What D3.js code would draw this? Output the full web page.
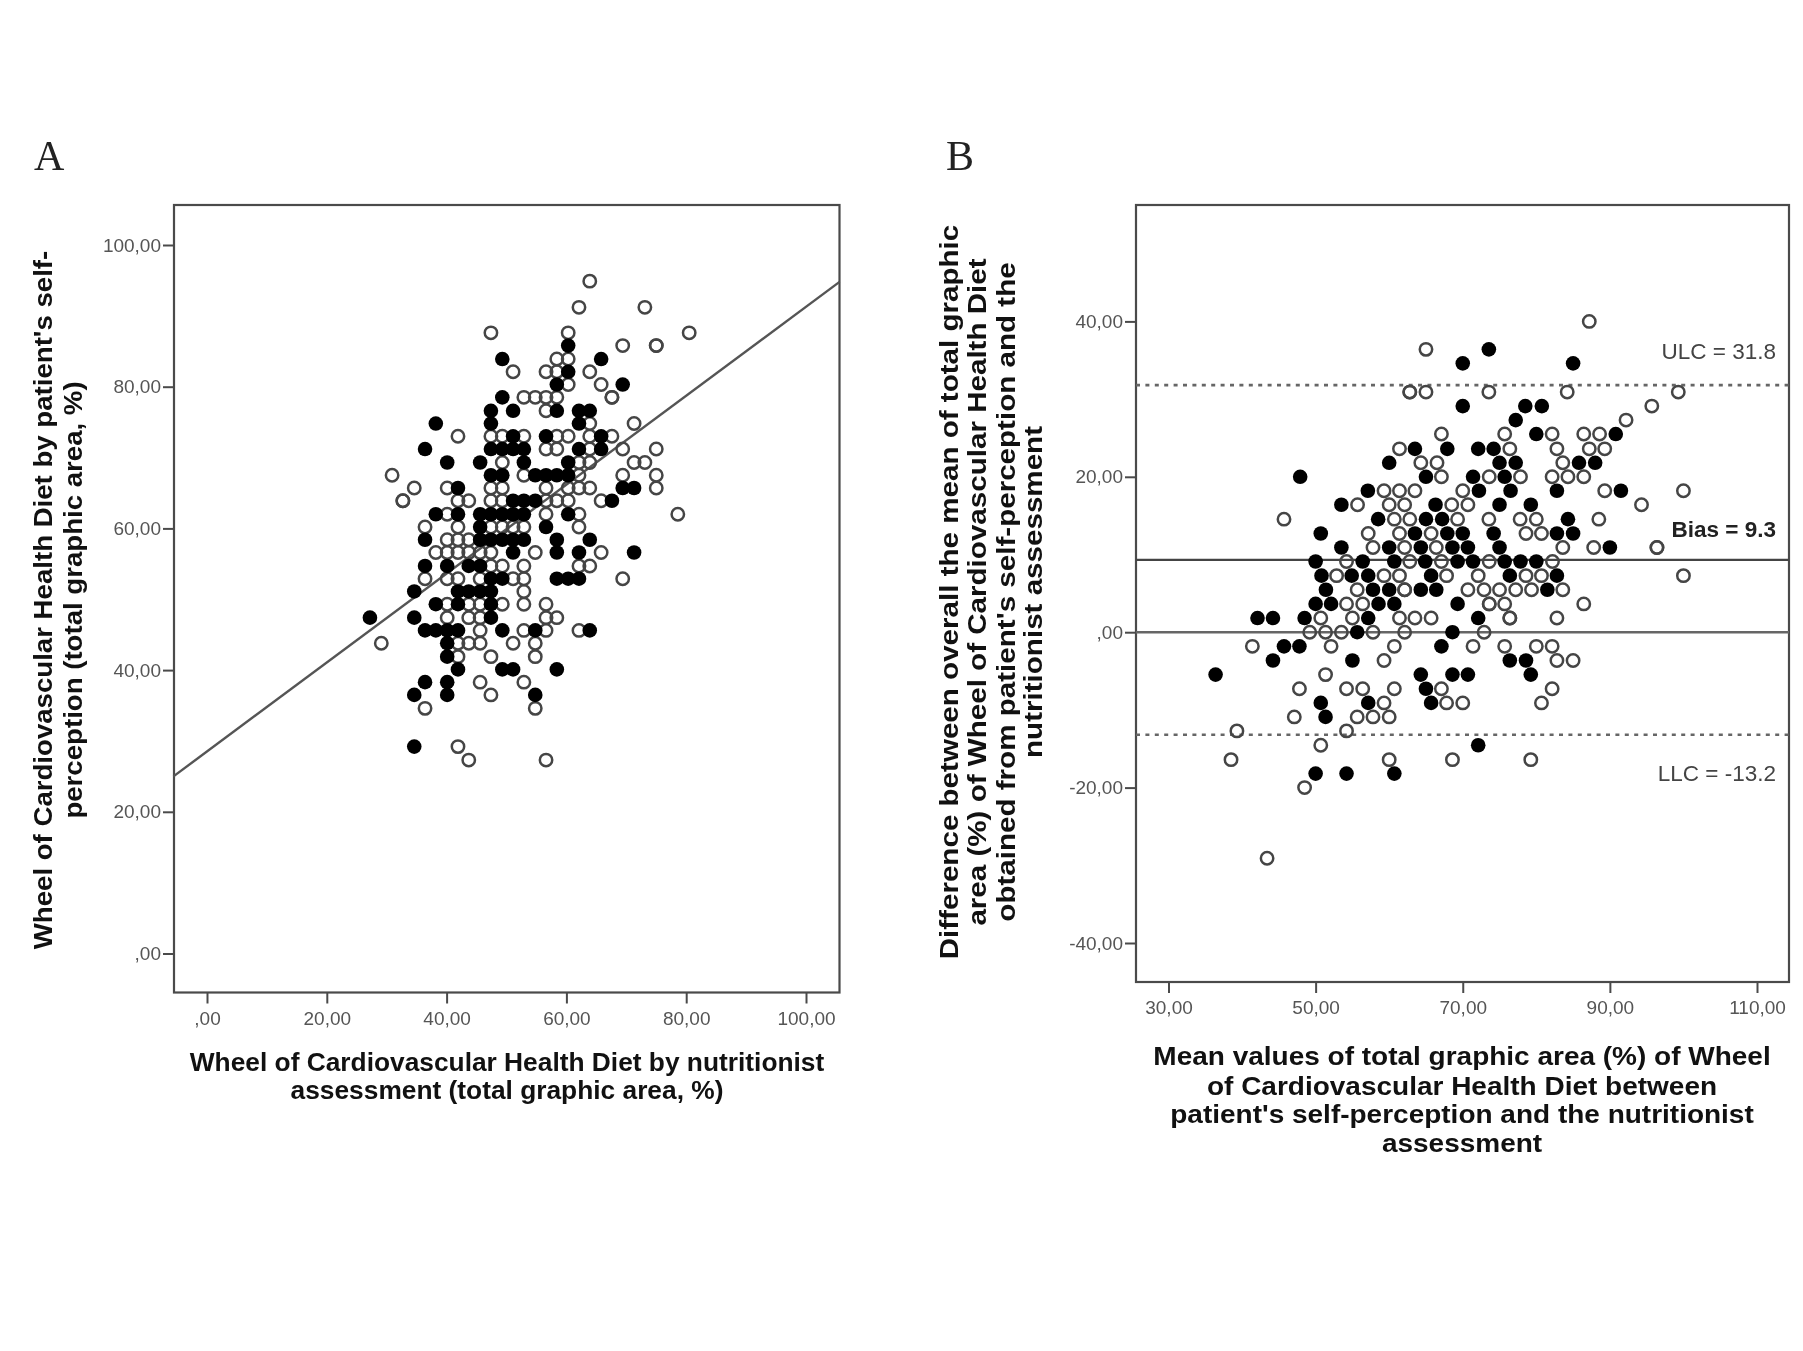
<!DOCTYPE html>
<html><head><meta charset="utf-8">
<script src="https://cdn.jsdelivr.net/npm/d3@7"></script>
<style>html,body{margin:0;background:#fff}svg{display:block;filter:blur(0.45px)}</style>
</head><body><svg id="c" width="1803" height="1351"></svg>
<script>
// ---- Panel A values (row-by-row: y value, open-marker x values, filled-marker x values)
const aRowY=[94.9,91.2,87.6,85.8,83.9,82.1,80.3,78.5,76.6,74.8,73.0,71.2,69.3,67.5,65.7,63.9,62.0,60.2,58.4,56.6,54.7,52.9,51.1,49.3,47.4,45.6,43.8,41.9,40.1,38.3,36.5,34.6,29.2,27.3];
const aOpenX=[[63.9],[62.1,73.1],[47.4,60.3,80.5],[69.4,75.0,75.0],[58.4,60.3],[51.1,56.6,58.4,63.9],[60.3,65.8],[52.9,54.8,56.6,58.4,67.6,67.6],[56.6],[63.9,71.3],[41.9,47.4,49.3,52.9,58.4,60.3,63.9,67.6],[56.6,58.4,63.9,69.4,75.0],[49.3,62.1,63.9,71.3,73.1],[30.9,52.9,62.1,69.4,75.0],[34.6,40.1,47.4,49.3,56.6,60.3,62.1,63.9,75.0],[32.7,32.7,41.9,43.7,47.4,49.3,56.6,58.4,60.3,65.8],[40.1,56.6,62.1,78.6],[36.4,41.9,47.4,49.3,51.1,52.9,62.1],[40.1,41.9,43.7],[38.2,40.1,41.9,43.7,45.6,47.4,54.8,65.8],[47.4,49.3,52.9,62.1,63.9],[36.4,40.1,41.9,45.6,51.1,52.9,69.4],[52.9],[40.1,43.7,45.6,49.3,52.9,56.6],[40.1,43.7,45.6,56.6,58.4],[45.6,52.9,56.6,62.1],[29.1,41.9,43.7,45.6,51.1,54.8],[41.9,47.4,54.8],[],[45.6,52.9],[47.4],[36.4,54.8],[41.9],[43.7,56.6]];
const aFilledX=[[],[],[],[60.3],[49.3,65.8],[60.3],[58.4,69.4],[49.3],[47.4,51.1,58.4,62.1,63.9],[38.2,47.4,62.1],[51.1,56.6,65.8],[36.4,47.4,49.3,51.1,52.9,62.1,65.8],[40.1,45.6,52.9,60.3],[47.4,49.3,54.8,56.6,58.4,60.3],[41.9,69.4,71.3],[51.1,52.9,54.8,67.6],[38.2,41.9,45.6,47.4,49.3,51.1,52.9,60.3],[45.6,56.6],[36.4,45.6,47.4,49.3,51.1,52.9,58.4,63.9],[51.1,58.4,62.1,71.3],[36.4,40.1,43.7,45.6],[47.4,49.3,58.4,60.3,62.1],[34.6,41.9,43.7,45.6,47.4],[38.2,41.9,47.4],[27.2,34.6,47.4],[36.4,38.2,40.1,41.9,49.3,54.8,63.9],[40.1],[40.1],[41.9,49.3,51.1,58.4],[36.4,40.1],[34.6,40.1,54.8],[],[34.6],[]];
const aFitX=[-5.6,105.6];
const aFitY=[25,94.8];
const aTicks=[0,20,40,60,80,100];
const aTickLabels=[",00","20,00","40,00","60,00","80,00","100,00"];

// ---- Panel B values
const bRowY=[40,36.4,34.6,30.9,29.1,27.3,25.5,23.6,21.8,20,18.2,16.4,14.55,12.7,10.9,9.1,7.28,5.46,3.64,1.82,0,-1.82,-3.64,-5.46,-7.28,-9.1,-10.9,-12.7,-14.55,-16.4,-18.2,-20,-29.1];
const bOpenX=[[87.2],[65.0],[],[62.8,62.8,65.0,73.55,84.2,99.3],[95.7],[92.2],[67.1,75.7,82.15,86.45,88.6],[61.4,76.4,82.8,87.2,89.3],[64.3,66.5,83.6],[67.1,73.6,77.85,82.15,84.3,86.45],[59.3,61.4,63.5,70,89.3,100],[55.7,60,62.1,68.5,70.7,94.3],[45.7,60.7,62.8,69.3,73.55,77.8,80,88.5],[57.15,61.4,65.7,78.6,80.7],[57.8,62.1,66.4,83.6,87.8,96.4,96.4],[54.2,62.8,67.1,73.6,82.2],[52.85,59.3,61.4,67.8,72.1,78.6,80.7,100],[55.65,62.1,62.1,70.7,72.9,75,77.2,79.35,83.6],[54.2,56.4,73.6,73.6,75.7,86.45],[50.7,55,61.4,63.5,65.7,76.4,76.4,82.8],[49.2,51.35,53.5,57.8,62.1,72.9],[41.4,52.1,60.7,71.4,75.7,80,82.15],[59.3,82.8,85],[51.35],[47.8,54.2,56.4,60.7,67.1,82.15],[59.3,67.8,70,80.7],[47.1,55.65,57.8,60],[39.3,54.2],[50.7],[38.5,60,68.6,79.25],[],[48.5],[43.4]];
const bFilledX=[[],[73.55],[70.0,85.0],[],[70.0,78.5,80.75],[77.2],[80.0,90.8],[63.5,67.9,72.1,74.2],[60.0,75.0,77.2,85.8,88.0],[47.9,65.0,71.4,75.7],[57.1,72.2,76.5,82.8,91.5],[53.5,66.3,75,79.25],[58.5,65,67.2,84.3],[50.7,63.5,67.9,70,74.2,82.8,85],[53.5,60,64.3,68.6,70.7,75,90],[50,56.4,60.7,64.9,69.3,71.4,75.7,77.85,80],[50.8,54.9,57.15,65.7,76.4,82.8],[51.4,57.8,60,64.3,66.4,81.5],[50,52.1,58.55,60.7,69.3],[42.1,44.2,48.5,57.15,72.1],[55.65,68.6],[45.7,47.8,67.1],[44.2,55,76.4,78.6],[36.4,64.3,68.6,70.7,79.25],[65],[50.7,57.15,65.7],[51.35],[],[72.1],[],[50,54.2,60.7],[],[]];
const bUlc=31.8, bBias=9.3, bZero=0, bLlc=-13.2;
const bXTicks=[30,50,70,90,110];
const bXTickLabels=["30,00","50,00","70,00","90,00","110,00"];
const bYTicks=[-40,-20,0,20,40];
const bYTickLabels=["-40,00","-20,00",",00","20,00","40,00"];

// ---- Text
const aXTitle=["Wheel of Cardiovascular Health Diet by nutritionist","assessment (total graphic area, %)"];
const aYTitle=["Wheel of Cardiovascular Health Diet by patient's self-","perception (total graphic area, %)"];
const bXTitle=["Mean values of total graphic area (%) of Wheel","of Cardiovascular Health Diet between","patient's self-perception and the nutritionist","assessment"];
const bYTitle=["Difference between overall the mean of total graphic","area (%) of Wheel of Cardiovascular Health Diet","obtained from patient's self-perception and the","nutritionist assessment"];

const svg=d3.select("#c");
const FONT="'Liberation Sans',Arial,sans-serif";
const FRAME="#4a4a4a", TICKTXT="#555";

function panel(o){
  const {left,right,top,bottom}=o.frame;
  const x=d3.scaleLinear().domain(o.xd).range(o.xr);
  const y=d3.scaleLinear().domain(o.yd).range(o.yr);
  const g=svg.append("g");
  g.append("rect").attr("x",left).attr("y",top).attr("width",right-left).attr("height",bottom-top)
    .attr("fill","none").attr("stroke",FRAME).attr("stroke-width",2.2);
  const ax=g.append("g").attr("transform",`translate(0,${bottom})`)
    .call(d3.axisBottom(x).tickValues(o.xt).tickFormat((d,i)=>o.xl[i]).tickSize(11).tickPadding(8));
  const ay=g.append("g").attr("transform",`translate(${left},0)`)
    .call(d3.axisLeft(y).tickValues(o.yt).tickFormat((d,i)=>o.yl[i]).tickSize(11).tickPadding(2));
  [ax,ay].forEach(a=>{a.select(".domain").remove();
    a.selectAll("line").attr("stroke",FRAME).attr("stroke-width",2);
    a.selectAll("text").attr("font-family",FONT).attr("font-size",o.tickSize).attr("fill",TICKTXT);});
  o.lines(g,x,y);
  const pts=(rows,xs)=>xs.flatMap((r,i)=>r.map(v=>[v,rows[i]]));
  g.selectAll("circle.o").data(pts(o.rows,o.open)).join("circle").attr("class","o")
    .attr("cx",d=>x(d[0])).attr("cy",d=>y(d[1])).attr("r",6.2).attr("fill","none")
    .attr("stroke","#454545").attr("stroke-width",2.5);
  g.selectAll("circle.f").data(pts(o.rows,o.filled)).join("circle").attr("class","f")
    .attr("cx",d=>x(d[0])).attr("cy",d=>y(d[1])).attr("r",7.3).attr("fill","#000");
  o.xtitle.lines.forEach((t,i)=>svg.append("text")
    .attr("transform",`translate(${o.xtitle.x},${o.xtitle.ys[i]}) scale(${o.xtitle.sx},1)`)
    .attr("text-anchor","middle").attr("font-family",FONT).attr("font-weight","bold").attr("font-size",o.xtitle.size).attr("fill","#111").text(t));
  o.ytitle.lines.forEach((t,i)=>svg.append("text")
    .attr("transform",`translate(${o.ytitle.xs[i]},${o.ytitle.y}) rotate(-90) scale(${o.ytitle.sx},1)`)
    .attr("text-anchor","middle").attr("font-family",FONT).attr("font-weight","bold").attr("font-size",o.ytitle.size).attr("fill","#111").text(t));
}

panel({frame:{left:174,right:839.5,top:205,bottom:992.5},
  xd:[0,100],xr:[207,806],yd:[0,100],yr:[953.5,245],
  xt:aTicks,xl:aTickLabels,yt:aTicks,yl:aTickLabels,tickSize:19,
  rows:aRowY,open:aOpenX,filled:aFilledX,
  lines:(g,x,y)=>{g.append("line").attr("x1",x(aFitX[0])).attr("y1",y(aFitY[0])).attr("x2",x(aFitX[1])).attr("y2",y(aFitY[1]))
    .attr("stroke","#555").attr("stroke-width",2.4);},
  xtitle:{lines:aXTitle,x:507,ys:[1071,1099],size:25,sx:1.053},
  ytitle:{lines:aYTitle,xs:[52,82],y:600,size:25,sx:1.105}
});

panel({frame:{left:1136,right:1789,top:205,bottom:982},
  xd:[30,110],xr:[1168.5,1757],yd:[-40,40],yr:[943,321.4],
  xt:bXTicks,xl:bXTickLabels,yt:bYTicks,yl:bYTickLabels,tickSize:19,
  rows:bRowY,open:bOpenX,filled:bFilledX,
  lines:(g,x,y)=>{
    const X1=1136,X2=1789;
    const hl=(v,c,w,dash)=>g.append("line").attr("x1",X1).attr("x2",X2).attr("y1",y(v)).attr("y2",y(v))
      .attr("stroke",c).attr("stroke-width",w).attr("stroke-dasharray",dash||null);
    hl(bUlc,"#666",2.6,"4 5.4");hl(bLlc,"#666",2.6,"4 5.4");
    hl(bBias,"#444",2.2);hl(bZero,"#666",2.6);
    const lab=(t,v,w,c)=>g.append("text").attr("x",1776).attr("y",v).attr("text-anchor","end")
      .attr("font-family",FONT).attr("font-size",22.5).attr("font-weight",w).attr("fill",c).text(t);
    lab("ULC = 31.8",359,"normal","#444");
    lab("Bias = 9.3",537,"bold","#222");
    lab("LLC = -13.2",781,"normal","#444");
  },
  xtitle:{lines:bXTitle,x:1462,ys:[1065,1095,1123,1152],size:25.5,sx:1.098},
  ytitle:{lines:bYTitle,xs:[958,986,1015,1042],y:592,size:25.5,sx:1.16}
});

svg.append("text").attr("x",34).attr("y",170).attr("font-family","'Liberation Serif',serif").attr("font-size",42).attr("fill","#222").text("A");
svg.append("text").attr("x",946).attr("y",170).attr("font-family","'Liberation Serif',serif").attr("font-size",42).attr("fill","#222").text("B");
</script></body></html>
